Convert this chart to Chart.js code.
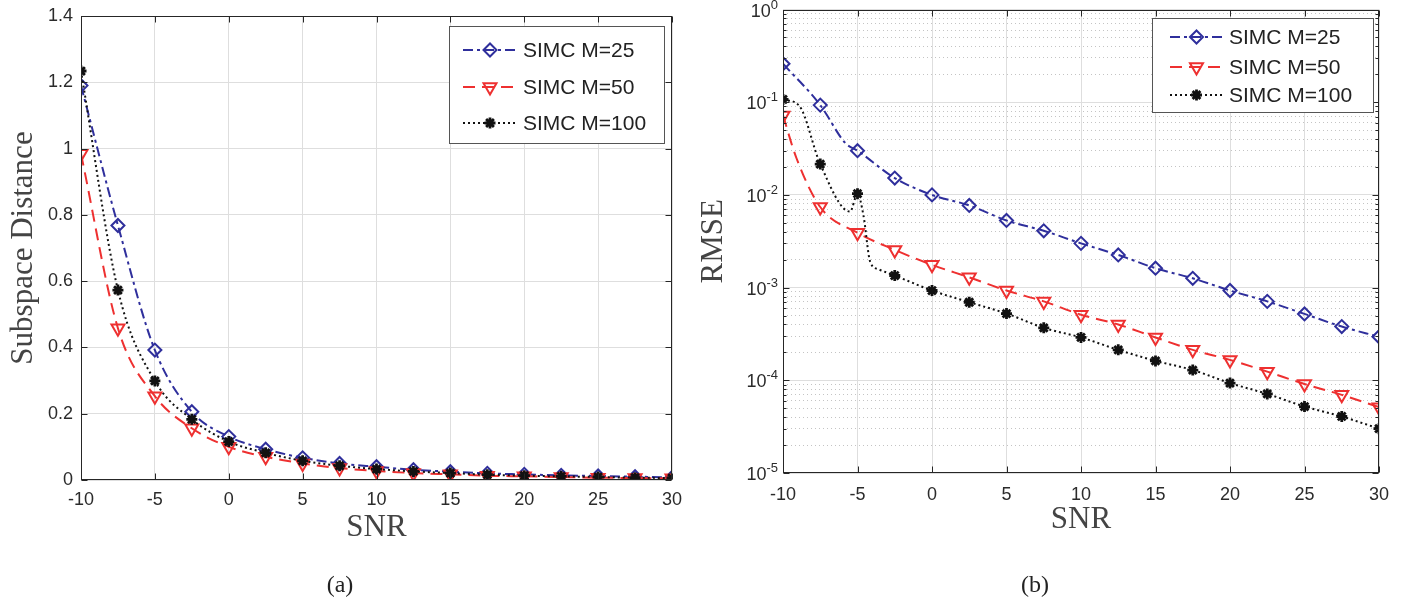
<!DOCTYPE html>
<html>
<head>
<meta charset="utf-8">
<script src="https://cdn.jsdelivr.net/npm/chart.js@4.4.1/dist/chart.umd.min.js"></script>
<style>
html, body { margin: 0; padding: 0; background: #fff; }
body { width: 1418px; height: 607px; position: relative; overflow: hidden; }
.wrap { position: absolute; top: 0; height: 607px; }
.cap { position: absolute; top: 571px; font: 24px "Liberation Serif", serif; color: #222; transform: translateX(-50%); }
</style>
</head>
<body>
<div class="wrap" style="left:0;width:700px"><canvas id="chartA"></canvas></div>
<div class="wrap" style="left:690px;width:728px"><canvas id="chartB"></canvas></div>
<div class="cap" style="left:340px">(a)</div>
<div class="cap" style="left:1035px">(b)</div>
<script>
// SNR values where markers sit
const snr = [-10, -7.5, -5, -2.5, 0, 2.5, 5, 7.5, 10, 12.5, 15, 17.5, 20, 22.5, 25, 27.5, 30];

// (a) subspace distance
const dist25 = [1.19, 0.768, 0.392, 0.206, 0.131, 0.093, 0.067, 0.050, 0.040, 0.031, 0.025, 0.020, 0.017, 0.014, 0.012, 0.010, 0.008];
const dist50 = [0.984, 0.458, 0.253, 0.156, 0.100, 0.070, 0.050, 0.036, 0.027, 0.021, 0.017, 0.013, 0.011, 0.009, 0.007, 0.006, 0.005];
const dist100 = [1.234, 0.573, 0.299, 0.183, 0.116, 0.082, 0.058, 0.043, 0.033, 0.026, 0.021, 0.016, 0.013, 0.011, 0.009, 0.007, 0.006];

// (b) RMSE
const rmse25 = [0.26, 0.093, 0.030, 0.0152, 0.0100, 0.0077, 0.0053, 0.0041, 0.0030, 0.00225, 0.00162, 0.00126, 0.00093, 0.00071, 0.00052, 0.00038, 0.000295];
const rmse50 = [0.072, 0.0074, 0.0039, 0.00255, 0.00176, 0.00129, 0.00093, 0.00071, 0.00051, 0.00040, 0.00029, 0.000213, 0.000166, 0.000124, 0.0000912, 0.0000697, 0.0000513];
const rmse100 = [0.107, 0.0215, 0.0103, 0.00135, 0.00093, 0.000695, 0.000525, 0.000368, 0.00029, 0.000213, 0.000162, 0.000129, 0.0000933, 0.0000713, 0.0000521, 0.0000407, 0.0000301];

// extra line points (no marker) where the RMSE curves bend between markers
const bendSnr25 = [-5.8];
const bendRmse25 = [0.036];
const bendSnr50 = [-9.1];
const bendRmse50 = [0.025];
const bendSnr100 = [-8.9, -5.5, -4.6, -4.15, -3.6];
const bendRmse100 = [0.091, 0.0066, 0.0060, 0.0019, 0.00158];

const labels = ['SIMC M=25', 'SIMC M=50', 'SIMC M=100'];

const looks = [
  { color: '#2f2f9c', dash: [10, 4, 3, 4], style: 'rectRot', rot: 0, r: 6.5, pbw: 2, order: 3 },
  { color: '#ee3030', dash: [12, 7], style: 'triangle', rot: 180, r: 7.5, pbw: 2, order: 2 },
  { color: '#111111', dash: [2, 3], style: 'star', rot: 0, r: 5.5, pbw: 2.8, order: 1 },
];

function points(xs, ys, bx, by) {
  const pts = xs.map((x, i) => ({ x: x, y: ys[i] }));
  (bx || []).forEach((x, i) => pts.push({ x: x, y: by[i] }));
  pts.sort((a, b) => a.x - b.x);
  return pts;
}

function makeDataset(i, pts) {
  const lk = looks[i];
  return {
    label: labels[i],
    data: pts,
    borderColor: lk.color,
    borderWidth: 2,
    borderDash: lk.dash,
    pointStyle: lk.style,
    pointRotation: lk.rot,
    pointRadius: c => (c.raw && snr.includes(c.raw.x) ? lk.r : 0),
    markerRadius: lk.r,
    pointBorderColor: lk.color,
    pointBackgroundColor: 'rgba(0,0,0,0)',
    pointBorderWidth: lk.pbw,
    cubicInterpolationMode: 'monotone',
    order: lk.order,
  };
}

const isDecade = v => Math.abs(Math.log10(v) - Math.round(Math.log10(v))) < 1e-6;
const sansFamily = '"Liberation Sans", Arial, sans-serif';
const tickColor = '#2b2b2b';

// axes box with inward tick marks, log labels as 10 with raised exponent, then the legend
const framePlugin = {
  id: 'frame',
  afterDatasetsDraw(chart) {
    const { ctx, chartArea: a, scales } = chart;
    const L = Math.round(a.left) + 0.5, R = Math.round(a.right) - 0.5;
    const T = Math.round(a.top) + 0.5, B = Math.round(a.bottom) - 0.5;
    ctx.save();
    ctx.strokeStyle = '#262626';
    ctx.lineWidth = 1;
    ctx.beginPath();
    scales.x.ticks.forEach(t => {
      const px = Math.round(scales.x.getPixelForValue(t.value)) + 0.5;
      ctx.moveTo(px, B); ctx.lineTo(px, B - 6);
      ctx.moveTo(px, T); ctx.lineTo(px, T + 6);
    });
    const logY = scales.y.type === 'logarithmic';
    scales.y.ticks.forEach(t => {
      const py = Math.round(scales.y.getPixelForValue(t.value)) + 0.5;
      const len = logY && !isDecade(t.value) ? 3 : 6;
      ctx.moveTo(L, py); ctx.lineTo(L + len, py);
      ctx.moveTo(R, py); ctx.lineTo(R - len, py);
    });
    ctx.stroke();
    ctx.strokeRect(L, T, R - L, B - T);
    if (logY) {
      ctx.fillStyle = tickColor;
      ctx.textBaseline = 'alphabetic';
      ctx.textAlign = 'right';
      scales.y.ticks.forEach(t => {
        if (!isDecade(t.value)) return;
        const py = scales.y.getPixelForValue(t.value);
        const ex = String(Math.round(Math.log10(t.value)));
        ctx.font = '13px ' + sansFamily;
        const exX = a.left - 5;
        ctx.fillText(ex, exX, py - 1);
        const w = ctx.measureText(ex).width;
        ctx.font = '18px ' + sansFamily;
        ctx.fillText('10', exX - w, py + 7);
      });
    }
    ctx.restore();
  },
  afterDraw(chart, args, o) {
    const ctx = chart.ctx;
    ctx.save();
    ctx.fillStyle = '#fff';
    ctx.fillRect(o.x, o.y, o.w, o.h);
    ctx.strokeStyle = '#555';
    ctx.lineWidth = 1;
    ctx.strokeRect(o.x + 0.5, o.y + 0.5, o.w, o.h);
    chart.data.datasets.forEach((ds, i) => {
      const y = o.rows[i];
      ctx.strokeStyle = ds.borderColor;
      ctx.lineWidth = ds.borderWidth;
      ctx.setLineDash(ds.borderDash);
      ctx.beginPath();
      ctx.moveTo(o.x0, y);
      ctx.lineTo(o.x1, y);
      ctx.stroke();
      ctx.setLineDash([]);
      ctx.fillStyle = ds.pointBackgroundColor;
      ctx.strokeStyle = ds.pointBorderColor;
      ctx.lineWidth = ds.pointBorderWidth;
      Chart.helpers.drawPoint(ctx, {
        pointStyle: ds.pointStyle, rotation: ds.pointRotation,
        radius: ds.markerRadius, borderWidth: ds.pointBorderWidth,
      }, (o.x0 + o.x1) / 2, y);
      ctx.fillStyle = '#222';
      ctx.font = '21px ' + sansFamily;
      ctx.textBaseline = 'middle';
      ctx.textAlign = 'left';
      ctx.fillText(ds.label, o.tx, y + 1);
    });
    ctx.restore();
  },
};

Chart.defaults.font.family = sansFamily;
Chart.defaults.color = tickColor;

const titleFont = { family: '"Liberation Serif", "Times New Roman", serif', size: 31 };
const tickFont = { family: sansFamily, size: 18 };
const gridColor = '#dedede';

function xAxis(pad, titleBottom) {
  return {
    type: 'linear', min: -10, max: 30,
    ticks: { stepSize: 5, font: tickFont, padding: pad, color: tickColor, maxRotation: 0 },
    grid: { color: gridColor, drawTicks: false },
    border: { display: false },
    title: { display: true, text: 'SNR', font: titleFont, color: '#444', padding: { top: 0, bottom: titleBottom } },
    afterFit: s => { s.height = 80; s.paddingLeft = 0; s.paddingRight = 0; },
  };
}

new Chart(document.getElementById('chartA'), {
  type: 'line',
  data: {
    datasets: [
      makeDataset(0, points(snr, dist25)),
      makeDataset(1, points(snr, dist50)),
      makeDataset(2, points(snr, dist100)),
    ],
  },
  options: {
    responsive: true,
    maintainAspectRatio: false,
    animation: false,
    events: [],
    layout: { padding: { left: 0, right: 28, top: 16, bottom: 47 } },
    scales: {
      x: xAxis(9, 14),
      y: {
        type: 'linear', min: 0, max: 1.4,
        ticks: { stepSize: 0.2, font: tickFont, padding: 8, color: tickColor, callback: v => String(+v.toFixed(1)) },
        grid: { color: gridColor, drawTicks: false },
        border: { display: false },
        title: { display: true, text: 'Subspace Distance', font: titleFont, color: '#444', padding: { top: 5, bottom: 0 } },
        afterFit: s => { s.width = 81; s.paddingTop = 0; s.paddingBottom = 0; },
      },
    },
    plugins: {
      legend: { display: false },
      tooltip: { enabled: false },
      frame: { x: 449, y: 26, w: 215, h: 117, rows: [50, 87, 123], x0: 463, x1: 517, tx: 523 },
    },
  },
  plugins: [framePlugin],
});

new Chart(document.getElementById('chartB'), {
  type: 'line',
  data: {
    datasets: [
      makeDataset(0, points(snr, rmse25, bendSnr25, bendRmse25)),
      makeDataset(1, points(snr, rmse50, bendSnr50, bendRmse50)),
      makeDataset(2, points(snr, rmse100, bendSnr100, bendRmse100)),
    ],
  },
  options: {
    responsive: true,
    maintainAspectRatio: false,
    animation: false,
    events: [],
    layout: { padding: { left: 0, right: 39, top: 6, bottom: 54 } },
    scales: {
      x: xAxis(11, 15),
      y: {
        type: 'logarithmic', min: 1e-5, max: 1,
        afterBuildTicks: s => {
          const t = [];
          for (let e = -5; e <= 0; e++) {
            for (let m = 1; m <= 9; m++) {
              t.push({ value: m * Math.pow(10, e) });
              if (e === 0) break;
            }
          }
          s.ticks = t;
        },
        // labels are drawn by the frame plugin with a raised exponent
        ticks: { autoSkip: false, font: tickFont, padding: 5, callback: () => '' },
        grid: {
          drawTicks: false,
          color: c => (c.tick && !isDecade(c.tick.value) ? '#c4c4c4' : gridColor),
        },
        border: {
          display: false,
          dash: c => (c.tick && !isDecade(c.tick.value) ? [1, 3] : []),
        },
        title: { display: true, text: 'RMSE', font: titleFont, color: '#444', padding: { top: 5, bottom: 0 } },
        afterFit: s => { s.width = 93; s.paddingTop = 0; s.paddingBottom = 0; },
      },
    },
    plugins: {
      legend: { display: false },
      tooltip: { enabled: false },
      frame: { x: 462, y: 18, w: 221, h: 94, rows: [37, 67, 95], x0: 480, x1: 533, tx: 539 },
    },
  },
  plugins: [framePlugin],
});
</script>
</body>
</html>
